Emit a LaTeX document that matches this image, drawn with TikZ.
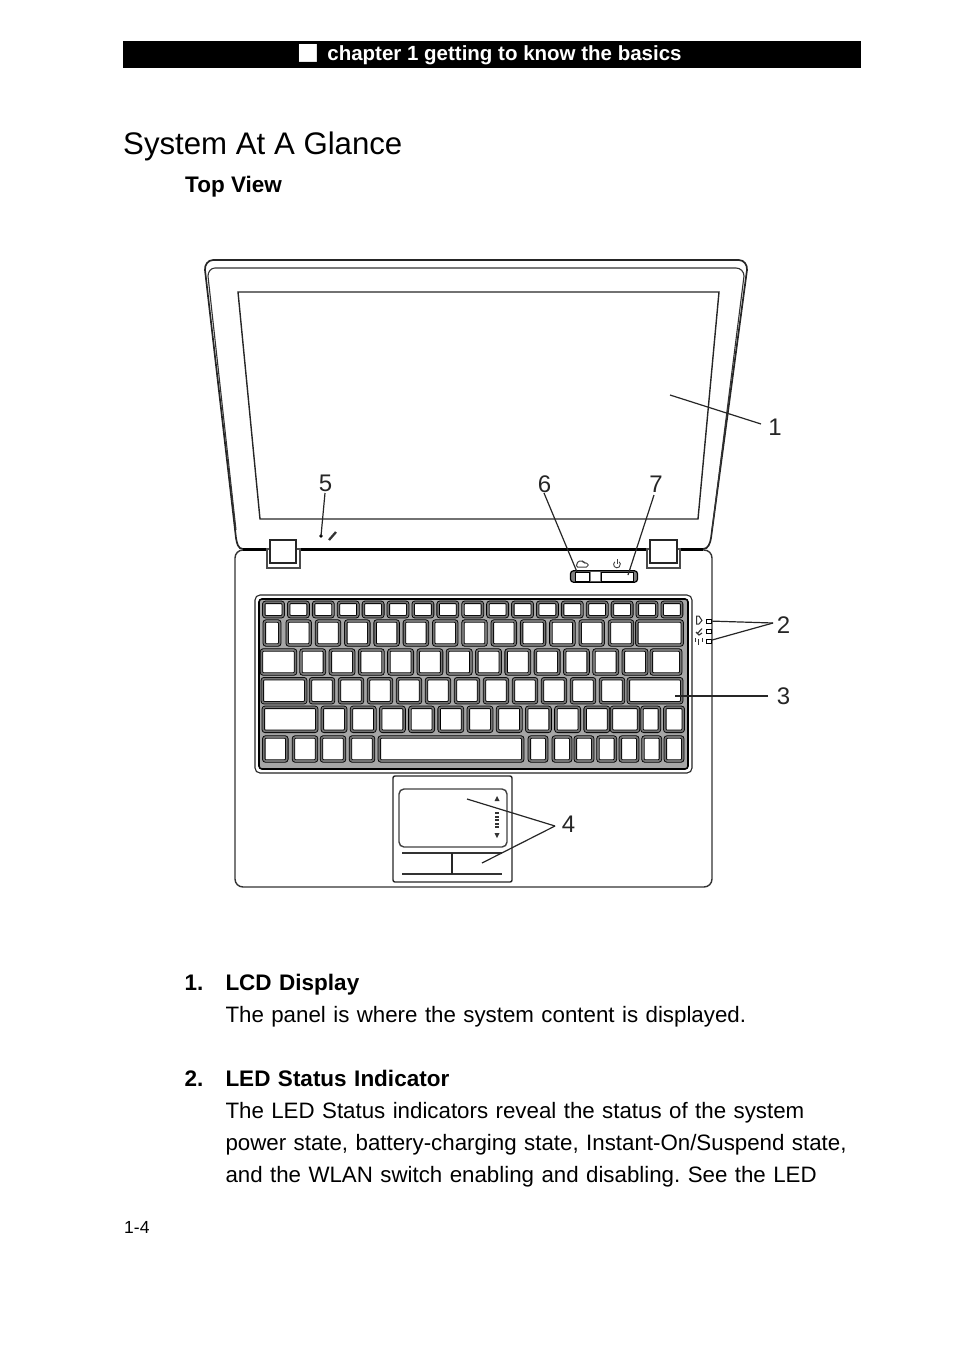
\documentclass[tikz,border=0pt]{standalone}
\usepackage{fontspec}
\setmainfont{Liberation Sans}
\usepackage{tikz}
\usetikzlibrary{calc}
\frenchspacing
\begin{document}
\begin{tikzpicture}[x=1pt,y=-1pt]
	\tikzstyle{bodyline}=[text width=640pt,inner sep=0pt,align=left,text height=17pt,text depth=5pt,node distance=32pt,font=\fontsize{22.3}{23}\selectfont];
	\tikzstyle{boldline}=[bodyline,font=\fontsize{22.5}{23}\selectfont\bfseries];
	\tikzstyle{callout}=[inner sep=0pt,font=\fontsize{24}{24}\selectfont,black!85];
	\tikzstyle{leader}=[line width=1.2pt,black!85];
	\tikzstyle{keycap}=[rectangle,draw=black,fill=white,inner sep=0pt,rounded corners=2pt,line width=.85pt,double=black!55,double distance=1.7pt];
	\tikzstyle{hingeback}=[rectangle,draw=black!70,fill=white,line width=1.2pt,minimum width=33pt,minimum height=19pt,inner sep=0pt];
	\tikzstyle{hingefront}=[rectangle,draw=black!85,fill=white,line width=1.3pt,minimum width=26pt,minimum height=23pt,inner sep=0pt];
	\tikzstyle{stripbtn}=[rectangle,draw=black,fill=white,line width=1pt,minimum height=9pt,inner sep=0pt];
	\tikzstyle{ledbox}=[rectangle,draw=black,fill=white,line width=1pt,inner sep=0pt,minimum width=5pt,minimum height=4pt];
	\useasboundingbox(0,0)rectangle(954,1355);
	\node[fill=black,minimum width=738pt,minimum height=27pt,inner sep=0pt](header)at(492,54.5){};
	\node[inner sep=0pt,text=white,font=\fontsize{20.5}{20.5}\selectfont\bfseries](headertext)at(504.5,55){chapter 1 getting to know the basics};
	\node[inner sep=0pt,text=white,font=\fontsize{37}{37}\selectfont](headermark)at(308,54){■};
	\node[anchor=base west,inner sep=0pt,font=\fontsize{31.2}{33}\selectfont](title)at(123,154){System At A Glance};
	\node[anchor=base west,inner sep=0pt,font=\fontsize{22.5}{23}\selectfont\bfseries](topview)at(185,192){Top View};

	\draw[line width=1.7pt,black!85](243,549)to[out=180,in=-80](236,538)--(205,270)to[out=95,in=180](213,260)--(739,260)to[out=0,in=85](747,270)--(711,538)to[out=-100,in=0](703,549)--cycle;
	\draw[line width=1.1pt,black!80](236,530)--(208,276)to[out=90,in=180](215,268)--(736,268)to[out=0,in=90](744,276)--(712,530);
	\draw[line width=1.4pt,black!85](238,292)--(719,292)--(698,519)--(260,519)--cycle;
	\draw[line width=1.4pt,black!80,rounded corners=8pt](243,550)--(235,550)--(235,887)--(712,887)--(712,550)--(703,550);
	\draw[line width=2.2pt,black](243,549.5)--(703,549.5);

	\node[hingeback](hingeleftback)at(283.5,558.5){};
	\node[hingefront](hingeleft)at(283,551.5){};
	\node[hingeback](hingerightback)at(663.5,558.5){};
	\node[hingefront,minimum width=27pt](hingeright)at(663.5,551.5){};

	\node[rectangle,draw=black,fill=black!50,line width=1.2pt,rounded corners=3pt,minimum width=67pt,minimum height=11.5pt,inner sep=0pt](strip)at(604,576.5){};
	\node[stripbtn,minimum width=14pt](instant)at(582.5,576.5){};
	\node[rectangle,fill=white,minimum width=9pt,minimum height=9pt,inner sep=0pt](stripmid)at(595.5,576.5){};
	\node[stripbtn,minimum width=32pt](power)at(617,576.5){};
	\draw[line width=1pt,black!75,rounded corners=1.5pt](576,567)--(578,561)--(583,561)--(584,563)--(588,563)--(588,567)--cycle;
	\draw[line width=.9pt,black!75](614.8,561.8)arc[start angle=130,end angle=410,radius=3.4pt];
	\draw[line width=.9pt,black!75](617,559)--(617,564);

	\fill[black](321,536)circle(1.8pt);
	\draw[line width=2.3pt,black!80](329,540)--(336,532);

	\node[rectangle,draw=black!85,fill=white,line width=1.1pt,rounded corners=5pt,minimum width=437pt,minimum height=178pt,inner sep=0pt](keyboard)at(473.5,684){};
	\node[rectangle,draw=black,fill=black!35,line width=1.6pt,rounded corners=3pt,minimum width=429pt,minimum height=170pt,inner sep=0pt](keybed)at(473.5,684){};

	\foreach \n in {0,...,16}
		\node[keycap,minimum width=19.4pt,minimum height=14.4pt](rowa\n)at(273.5+24.9*\n,609.5){};
	\node[keycap,minimum width=15.4pt,minimum height=24pt](rowbnarrow)at(272,633){};
	\foreach \n in {0,...,11}
		\node[keycap,minimum width=23pt,minimum height=24pt](rowb\n)at(298.7+29.3*\n,633){};
	\node[keycap,minimum width=45.4pt,minimum height=24pt](rowbwide)at(659.5,633){};
	\node[keycap,minimum width=34pt,minimum height=24pt](rowcwide)at(278.5,662){};
	\foreach \n in {0,...,11}
		\node[keycap,minimum width=23.4pt,minimum height=24pt](rowc\n)at(312.7+29.3*\n,662){};
	\node[keycap,minimum width=29.4pt,minimum height=24pt](rowcend)at(666,662){};
	\node[keycap,minimum width=43.4pt,minimum height=24pt](rowdwide)at(284,690.7){};
	\foreach \n in {0,...,10}
		\node[keycap,minimum width=23pt,minimum height=24pt](rowd\n)at(322+29*\n,690.7){};
	\node[keycap,minimum width=53.4pt,minimum height=24pt](rowdend)at(655,690.7){};
	\node[keycap,minimum width=53.4pt,minimum height=24pt](rowewide)at(290,719.3){};
	\foreach \n in {0,...,9}
		\node[keycap,minimum width=23.4pt,minimum height=24pt](rowe\n)at(334+29.2*\n,719.3){};
	\node[keycap,minimum width=27pt,minimum height=24pt](roweshift)at(625,719.3){};
	\node[keycap,minimum width=17.4pt,minimum height=24pt](roweup)at(650.7,719.3){};
	\node[keycap,minimum width=18.4pt,minimum height=24pt](roweend)at(674,719.3){};
	\foreach \x in {275.3,305,333,362}
		\node[keycap,minimum width=23pt,minimum height=24pt](rowf\x)at(\x,749){};
	\node[keycap,minimum width=143.4pt,minimum height=24pt](space)at(451,749){};
	\foreach \x in {538,562,584,606.7,629,651.7,674}
		\node[keycap,minimum width=17.4pt,minimum height=24pt](rowg\x)at(\x,749){};

	\node[ledbox](ledone)at(708.5,621){};
	\node[ledbox](ledtwo)at(708.5,631){};
	\node[ledbox](ledthree)at(708.5,641){};
	\draw[line width=1pt,black!80](696.5,616)--(696.5,624)--(699,624)--(702,620.5)--(699,616)--cycle;
	\draw[line width=1.1pt,black!80](697,634)--(702,628.5)(696,632)--(699,635)--(702,633);
	\draw[line width=1pt,black!80](698.5,639)--(698.5,645)(695,638)--(695,642)(702,638)--(702,642);

	\node[rectangle,draw=black!85,line width=1.4pt,rounded corners=2pt,minimum width=119pt,minimum height=106pt,inner sep=0pt](touchframe)at(452.5,829){};
	\node[rectangle,draw=black!75,line width=1.4pt,rounded corners=5pt,minimum width=108pt,minimum height=58pt,inner sep=0pt](touchpad)at(453,818){};
	\coordinate(padbtnl)at(402,853);
	\coordinate(padbtnr)at(502,853);
	\coordinate(padbotl)at(402,874);
	\coordinate(padbotr)at(502,874);
	\draw[line width=1.2pt,black!80](padbtnl)--(padbtnr);
	\draw[line width=1.2pt,black!80](padbotl)--(padbotr);
	\draw[line width=1.8pt,black!85]($(padbtnl)!.5!(padbtnr)$)--($(padbotl)!.5!(padbotr)$);
	\fill[black!80](497,796)--(499.5,801)--(494.5,801)--cycle;
	\fill[black!80](497,838)--(499.5,833)--(494.5,833)--cycle;
	\foreach \y in {812,815.5,819,822.5,826}
		\fill[black!80](495,\y)rectangle(499,\y+2.2);

	\node[callout](one)at(775,427){1};
	\node[callout](two)at(783.5,625){2};
	\node[callout](three)at(783.5,696.5){3};
	\node[callout](four)at(568.5,824){4};
	\node[callout](five)at(325.5,483){5};
	\node[callout](six)at(544.5,484){6};
	\node[callout](seven)at(656,484){7};
	\coordinate(onetip)at(670,395);
	\coordinate(oneend)at(761,424);
	\coordinate(twoend)at(773,623);
	\coordinate(threeend)at(768,696);
	\coordinate(fourend)at(555,826);
	\coordinate(fiveend)at(325,493);
	\coordinate(sixend)at(544,493);
	\coordinate(sevenend)at(654,495);
	\draw[leader](oneend)--(onetip);
	\draw[leader](twoend)--(ledone);
	\draw[leader](twoend)--(ledthree);
	\coordinate(threetip)at(675,696);
	\draw[leader](threeend)--(threetip);
	\coordinate(fourtipa)at(467,799);
	\coordinate(fourtipb)at(482,863);
	\draw[leader](fourend)--(fourtipa);
	\draw[leader](fourend)--(fourtipb);
	\coordinate(fivetip)at(321,536);
	\coordinate(sixtip)at(577,572);
	\coordinate(seventip)at(628,575);
	\draw[leader](fiveend)--(fivetip);
	\draw[leader](sixend)--(sixtip);
	\draw[leader](sevenend)--(seventip);

	\node[boldline](head1)at(545.5,984){LCD Display};
	\node[boldline,left of=head1,node distance=41pt](num1){1.};
	\node[bodyline,below of=head1](text1){The panel is where the system content is displayed.};
	\node[boldline,below of=text1,node distance=64pt](head2){LED Status Indicator};
	\node[boldline,left of=head2,node distance=41pt](num2){2.};
	\node[bodyline,below of=head2](text2a){The LED Status indicators reveal the status of the system};
	\node[bodyline,below of=text2a](text2b){power state, battery-charging state, Instant-On/Suspend state,};
	\node[bodyline,below of=text2b](text2c){and the WLAN switch enabling and disabling. See the LED};
	\node[anchor=base west,inner sep=0pt,font=\fontsize{17.5}{18}\selectfont](pageno)at(124,1233){1-4};
\end{tikzpicture}
\end{document}
